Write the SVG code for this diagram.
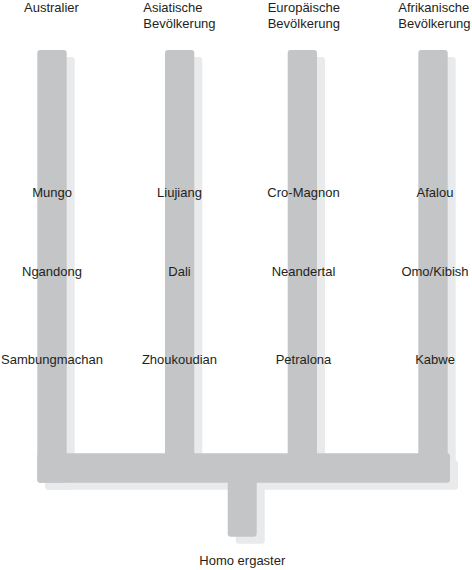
<svg xmlns="http://www.w3.org/2000/svg" width="472" height="570" viewBox="0 0 472 570">
  <style>
    .bar { fill: #c4c5c7; }
    .shadow { fill: #e9eaeb; }
    text { font-family: "Liberation Sans", Arial, sans-serif; font-size: 13px; fill: #231f20; }
    .c { text-anchor: middle; }
  </style>
  <defs>
    <g id="tree">
      <rect x="37.3" y="50" width="29.4" height="432.7" rx="3"/>
      <rect x="165" y="50" width="29.3" height="420" rx="3"/>
      <rect x="287.7" y="50" width="29.3" height="420" rx="3"/>
      <rect x="418.3" y="50" width="29.4" height="420" rx="3"/>
      <rect x="37.3" y="453.3" width="412.7" height="29.4" rx="3"/>
      <rect x="227.7" y="470" width="29" height="66.7" rx="3"/>
    </g>
  </defs>
  <g id="shadow" class="shadow">
    <use href="#tree" transform="translate(8,7)"/>
  </g>
  <g id="connectors" class="bar">
    <use href="#tree"/>
  </g>
  <g id="australier">
    <text x="24" y="11.7">Australier</text>
    <text class="c" x="52" y="196.7">Mungo</text>
    <text class="c" x="52" y="276">Ngandong</text>
    <text class="c" x="52" y="364">Sambungmachan</text>
  </g>
  <g id="asiatische">
    <text x="143.3" y="11.7">Asiatische</text>
    <text x="143.3" y="27.7">Bevölkerung</text>
    <text class="c" x="179.5" y="196.7">Liujiang</text>
    <text class="c" x="179.5" y="276">Dali</text>
    <text class="c" x="179.5" y="364">Zhoukoudian</text>
  </g>
  <g id="europaeische">
    <text x="267.7" y="11.7">Europäische</text>
    <text x="267.7" y="27.7">Bevölkerung</text>
    <text class="c" x="303.5" y="196.7">Cro-Magnon</text>
    <text class="c" x="303.5" y="276">Neandertal</text>
    <text class="c" x="303.5" y="364">Petralona</text>
  </g>
  <g id="afrikanische">
    <text x="398.3" y="11.7">Afrikanische</text>
    <text x="398.3" y="27.7">Bevölkerung</text>
    <text class="c" x="435" y="196.7">Afalou</text>
    <text class="c" x="435" y="276">Omo/Kibish</text>
    <text class="c" x="435" y="364">Kabwe</text>
  </g>
  <g id="homo-ergaster">
    <text class="c" x="242.3" y="564.5">Homo ergaster</text>
  </g>
</svg>
